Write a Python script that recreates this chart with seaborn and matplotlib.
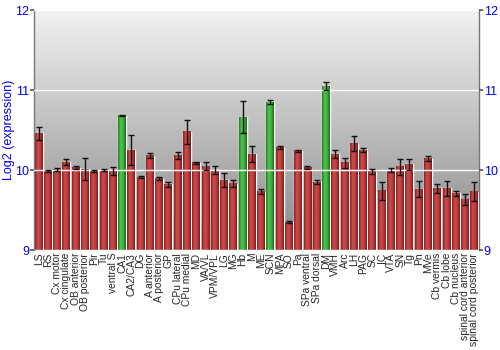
import numpy as np
import pandas as pd
import matplotlib
matplotlib.use("Agg")
import matplotlib.pyplot as plt
import seaborn as sns
from matplotlib.colors import LinearSegmentedColormap

regions = ["LS", "RS", "Cx motor", "Cx cingulate", "OB anterior", "OB posterior",
           "Pir", "Tu", "ventral S", "CA1", "CA2/CA3", "DG", "A anterior",
           "A posterior", "GP", "CPu lateral", "CPu medial", "MD", "VA/VL",
           "VPM/VPL", "LG", "MG", "Hb", "M", "ME", "SCN", "MPA", "SO", "Pa",
           "SPa ventral", "SPa dorsal", "DM", "VMH", "Arc", "LH", "PAG", "SC",
           "IC", "VTA", "SN", "Tg", "Pn", "MVe", "Cb vermis", "Cb lobe",
           "Cb nucleus", "spinal cord anterior", "spinal cord posterior"]
values = [10.46, 9.99, 10.01, 10.10, 10.03, 10.01, 9.99, 10.00, 9.99, 10.68,
          10.25, 9.91, 10.18, 9.89, 9.82, 10.18, 10.48, 10.09, 10.05, 10.00,
          9.875, 9.83, 10.66, 10.20, 9.73, 10.85, 10.28, 9.35, 10.24, 10.03,
          9.85, 11.05, 10.20, 10.09, 10.33, 10.25, 9.98, 9.74, 10.00, 10.04,
          10.07, 9.76, 10.14, 9.77, 9.77, 9.71, 9.63, 9.73]
errors = [0.08, 0.01, 0.02, 0.04, 0.02, 0.14, 0.01, 0.01, 0.05, 0.01,
          0.19, 0.01, 0.03, 0.02, 0.03, 0.04, 0.15, 0.01, 0.05, 0.05,
          0.09, 0.04, 0.20, 0.10, 0.03, 0.03, 0.02, 0.01, 0.01, 0.02,
          0.02, 0.05, 0.05, 0.06, 0.09, 0.03, 0.03, 0.11, 0.03, 0.10,
          0.07, 0.10, 0.03, 0.06, 0.09, 0.03, 0.07, 0.12]
highlight = ["CA1", "Hb", "SCN", "DM"]

sns.set_style("white")
plt.rcParams['font.family'] = ['Liberation Sans', 'DejaVu Sans']

df = pd.DataFrame({"region": regions, "expr": values, "err": errors})
df["group"] = np.where(df["region"].isin(highlight), "high", "base")

fig = plt.figure(figsize=(5, 3.5), dpi=100)
ax = fig.add_axes([0.068, 0.2857, 0.89, 0.6857])

# grey gradient background
bg = np.linspace(0, 1, 256).reshape(-1, 1)
bg_cmap = LinearSegmentedColormap.from_list("bg", ["#f2f2f2", "#888888"])
ax.imshow(bg, cmap=bg_cmap, extent=(0, 1, 0, 1), transform=ax.transAxes,
          aspect="auto", zorder=0)

sns.barplot(data=df, x="region", y="expr", hue="group",
            palette={"base": "#b03030", "high": "#30a030"},
            dodge=False, legend=False, width=0.86, ax=ax, zorder=1)

ymin, ymax = 9, 12
red_cmap = LinearSegmentedColormap.from_list(
    "red", ["#8a2020", "#cc4c4c", "#bc3e3e", "#801c1c"])
green_cmap = LinearSegmentedColormap.from_list(
    "green", ["#207c20", "#50c450", "#3cb03c", "#1c6c1c"])
grad = np.linspace(0, 1, 64).reshape(1, -1)
for p in ax.patches:
    x0, w, h = p.get_x(), p.get_width(), p.get_height()
    idx = int(round(x0 + w / 2))
    cmap = green_cmap if regions[idx] in highlight else red_cmap
    ax.imshow(grad, cmap=cmap, extent=(x0, x0 + w, ymin, h),
              aspect="auto", zorder=2)

ax.errorbar(df["region"], df["expr"], yerr=df["err"], fmt="none",
            ecolor="#111111", elinewidth=1, capsize=2.5, capthick=1, zorder=3)

ax.set_xlim(-0.5, len(regions) - 0.5)
ax.set_ylim(ymin, ymax)
ax.set_yticks([9, 10, 11, 12])
ax.yaxis.grid(True, color="white", lw=1)
ax.set_axisbelow(False)
for gl in ax.get_ygridlines():
    gl.set_zorder(0.5)

ax.tick_params(axis="y", labelcolor="#0000ee", labelsize=9, color="#555555",
               length=3, width=1.2, pad=0.5, left=True, right=True,
               labelright=True)
ax.tick_params(axis="x", labelsize=7.4, length=0, pad=2, rotation=90)
for s in ["top", "bottom"]:
    ax.spines[s].set_visible(False)
for s in ["left", "right"]:
    ax.spines[s].set_color("#777777")
    ax.spines[s].set_linewidth(1)

ax.set_xlabel("")
ax.set_ylabel("Log2 (expression)", color="#0000ee", fontsize=9, labelpad=0)

fig.savefig("out.png", dpi=100)
